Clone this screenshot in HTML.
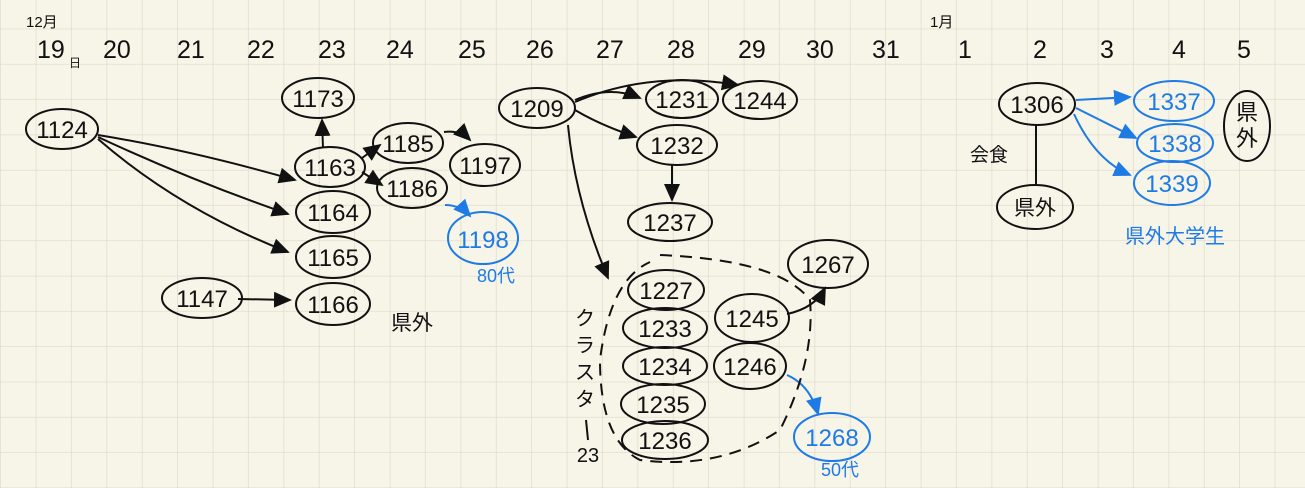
<!DOCTYPE html>
<html><head><meta charset="utf-8"><style>
html,body{margin:0;padding:0;background:#f7f4e8;}
svg{display:block}
text{font-family:"Liberation Sans","Noto Sans CJK JP",sans-serif;fill:#111;}
.b{fill:#1e7be6}
</style></head><body>
<svg width="1305" height="488" viewBox="0 0 1305 488" xmlns="http://www.w3.org/2000/svg">
<defs>
<pattern id="g" x="1" y="-6" width="35.4" height="35.3" patternUnits="userSpaceOnUse">
<path d="M35.4 0V35.3M0 35.3H35.4" stroke="#dedac9" stroke-width="1.3" fill="none"/>
</pattern>
<marker id="a" markerWidth="10" markerHeight="10" refX="8" refY="5" orient="auto"><path d="M0,1 L9,5 L0,9z" fill="#111"/></marker>
<marker id="ab" markerWidth="10" markerHeight="10" refX="8" refY="5" orient="auto"><path d="M0,1 L9,5 L0,9z" fill="#1e7be6"/></marker>
</defs>
<rect width="1305" height="488" fill="#f7f4e8"/>
<rect width="1305" height="488" fill="url(#g)"/>
<g font-size="15"><text x="26" y="27">12月</text><text x="930" y="27">1月</text></g>
<g font-size="25">
<text x="37" y="58">19</text><text x="69" y="67" font-size="12">日</text>
<text x="103" y="58">20</text><text x="177" y="58">21</text><text x="247" y="58">22</text>
<text x="318" y="58">23</text><text x="386" y="58">24</text><text x="458" y="58">25</text>
<text x="526" y="58">26</text><text x="596" y="58">27</text><text x="667" y="58">28</text>
<text x="738" y="58">29</text><text x="806" y="58">30</text><text x="872" y="58">31</text>
<text x="958" y="58">1</text><text x="1033" y="58">2</text><text x="1100" y="58">3</text>
<text x="1172" y="58">4</text><text x="1237" y="58">5</text>
</g>
<g fill="none" stroke="#111" stroke-width="2">
<path d="M98 135 Q190 150 295 180" marker-end="url(#a)"/>
<path d="M98 137 Q190 180 288 214" marker-end="url(#a)"/>
<path d="M98 139 Q180 210 288 252" marker-end="url(#a)"/>
<path d="M238 299 L290 300" marker-end="url(#a)"/>
<path d="M323 148 L322 120" marker-end="url(#a)"/>
<path d="M362 158 L380 145" marker-end="url(#a)"/>
<path d="M362 172 L382 185" marker-end="url(#a)"/>
<path d="M444 132 Q460 130 470 140" marker-end="url(#a)"/>
<path d="M575 100 Q610 85 640 98" marker-end="url(#a)"/>
<path d="M575 102 Q650 70 738 85" marker-end="url(#a)"/>
<path d="M575 110 Q600 125 636 137" marker-end="url(#a)"/>
<path d="M672 165 L672 200" marker-end="url(#a)"/>
<path d="M568 125 Q575 200 608 278" marker-end="url(#a)"/>
<path d="M787 314 Q815 308 825 288" marker-end="url(#a)"/>
<path d="M1036 124 L1036 186"/>
</g>
<g fill="none" stroke="#1e7be6" stroke-width="2">
<path d="M445 205 Q460 205 470 216" marker-end="url(#ab)"/>
<path d="M787 375 Q810 385 818 414" marker-end="url(#ab)"/>
<path d="M1076 100 L1130 97" marker-end="url(#ab)"/>
<path d="M1076 108 Q1110 125 1136 138" marker-end="url(#ab)"/>
<path d="M1074 114 Q1095 160 1130 175" marker-end="url(#ab)"/>
</g>
<path d="M660 255 Q780 260 810 300 Q815 360 780 430 Q720 470 640 460 Q600 440 600 360 Q610 280 650 262" fill="none" stroke="#111" stroke-width="2" stroke-dasharray="12 8"/>
<g fill="none" stroke="#111" stroke-width="2">
<ellipse cx="62" cy="129" rx="36" ry="20"/>
<ellipse cx="318" cy="98" rx="36" ry="20"/>
<ellipse cx="330" cy="167" rx="35" ry="20"/>
<ellipse cx="333" cy="212" rx="37" ry="21"/>
<ellipse cx="333" cy="257" rx="37" ry="21"/>
<ellipse cx="202" cy="298" rx="40" ry="20"/>
<ellipse cx="333" cy="304" rx="37" ry="21"/>
<ellipse cx="408" cy="143" rx="35" ry="20"/>
<ellipse cx="412" cy="188" rx="35" ry="20"/>
<ellipse cx="485" cy="165" rx="35" ry="21"/>
<ellipse cx="537" cy="108" rx="38" ry="20"/>
<ellipse cx="682" cy="99" rx="36" ry="19"/>
<ellipse cx="760" cy="100" rx="37" ry="19"/>
<ellipse cx="677" cy="145" rx="40" ry="20"/>
<ellipse cx="670" cy="222" rx="42" ry="19"/>
<ellipse cx="666" cy="290" rx="38" ry="20"/>
<ellipse cx="665" cy="328" rx="42" ry="20"/>
<ellipse cx="665" cy="366" rx="42" ry="19"/>
<ellipse cx="663" cy="404" rx="42" ry="20"/>
<ellipse cx="665" cy="440" rx="43" ry="19"/>
<ellipse cx="752" cy="318" rx="37" ry="24"/>
<ellipse cx="750" cy="366" rx="36" ry="23"/>
<ellipse cx="828" cy="264" rx="40" ry="24"/>
<ellipse cx="1037" cy="104" rx="38" ry="21"/>
<ellipse cx="1035" cy="207" rx="38" ry="22"/>
<ellipse cx="1247" cy="126" rx="23" ry="35"/>
</g>
<g fill="none" stroke="#1e7be6" stroke-width="2">
<ellipse cx="483" cy="238" rx="35" ry="26"/>
<ellipse cx="832" cy="437" rx="38" ry="24"/>
<ellipse cx="1174" cy="101" rx="40" ry="20"/>
<ellipse cx="1175" cy="143" rx="38" ry="19"/>
<ellipse cx="1172" cy="183" rx="38" ry="22"/>
</g>
<g font-size="24" text-anchor="middle">
<text x="62" y="138">1124</text><text x="318" y="107">1173</text>
<text x="330" y="176">1163</text><text x="333" y="221">1164</text>
<text x="333" y="266">1165</text><text x="202" y="307">1147</text>
<text x="333" y="313">1166</text><text x="408" y="152">1185</text>
<text x="412" y="197">1186</text><text x="485" y="174">1197</text>
<text x="537" y="117">1209</text><text x="682" y="108">1231</text>
<text x="760" y="109">1244</text><text x="677" y="154">1232</text>
<text x="670" y="231">1237</text><text x="666" y="299">1227</text>
<text x="665" y="337">1233</text><text x="665" y="375">1234</text>
<text x="663" y="413">1235</text><text x="665" y="449">1236</text>
<text x="752" y="327">1245</text><text x="750" y="375">1246</text>
<text x="828" y="273">1267</text><text x="1037" y="113">1306</text>
<text x="1035" y="215" font-size="21">県外</text>
<text x="412" y="330" font-size="21">県外</text>
<text x="1247" y="120" font-size="22">県</text><text x="1247" y="146" font-size="22">外</text>
<text x="989" y="161" font-size="19">会食</text>
<text class="b" x="483" y="248">1198</text>
<text class="b" x="496" y="282" font-size="18">80代</text>
<text class="b" x="832" y="446">1268</text>
<text class="b" x="840" y="476" font-size="18">50代</text>
<text class="b" x="1174" y="110">1337</text>
<text class="b" x="1175" y="152">1338</text>
<text class="b" x="1172" y="192">1339</text>
<text class="b" x="1175" y="243" font-size="20">県外大学生</text>
<text x="585" y="325" font-size="20">ク</text><text x="585" y="352" font-size="20">ラ</text>
<text x="585" y="379" font-size="20">ス</text><text x="585" y="406" font-size="20">タ</text>
<text x="588" y="462" font-size="20">23</text>
</g>
<path d="M586 420 L588 440" stroke="#111" stroke-width="2"/>
</svg>
</body></html>
